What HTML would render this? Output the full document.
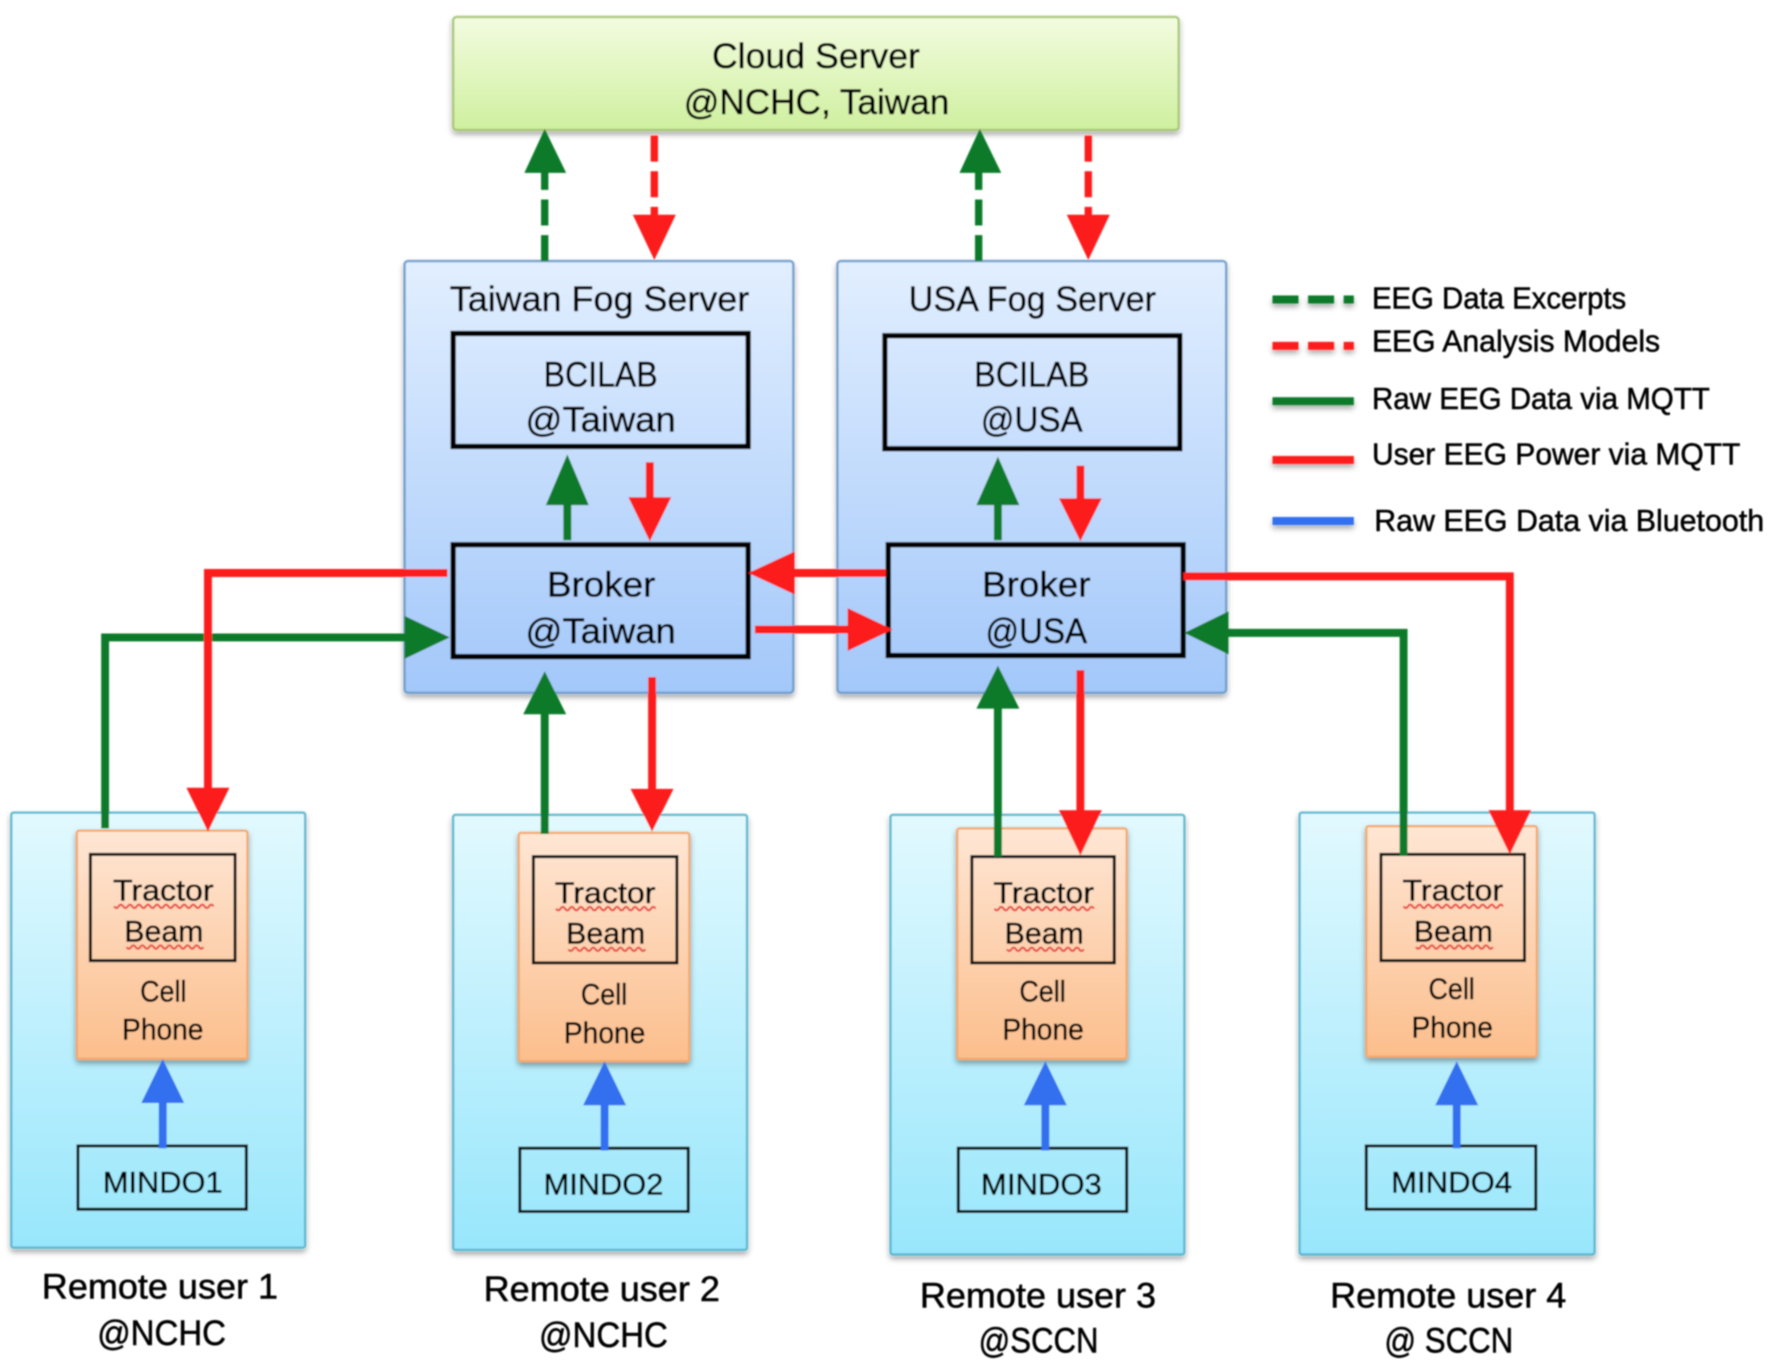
<!DOCTYPE html>
<html><head><meta charset="utf-8"><style>
html,body{margin:0;padding:0;background:#fff;width:1772px;height:1372px;overflow:hidden}
svg{display:block}
text{font-family:"Liberation Sans",sans-serif;fill:#000;stroke:#000;stroke-width:0.45px}
.b{font-size:31px}.s{font-size:26px}.l{font-size:27px}
</style></head><body>
<svg xmlns="http://www.w3.org/2000/svg" width="1772" height="1372" viewBox="0 0 1568 1214">
<defs>
<linearGradient id="gc" x1="0" y1="0" x2="0" y2="1"><stop offset="0" stop-color="#f3fce0"/><stop offset="1" stop-color="#cff09f"/></linearGradient>
<linearGradient id="gf" x1="0" y1="0" x2="0" y2="1"><stop offset="0" stop-color="#e2efff"/><stop offset="1" stop-color="#a3c8fa"/></linearGradient>
<linearGradient id="gr" x1="0" y1="0" x2="0" y2="1"><stop offset="0" stop-color="#e2f9fe"/><stop offset="1" stop-color="#98e6fc"/></linearGradient>
<linearGradient id="go" x1="0" y1="0" x2="0" y2="1"><stop offset="0" stop-color="#fee6d4"/><stop offset="1" stop-color="#fcbe8c"/></linearGradient>
<filter id="sh" x="-10%" y="-10%" width="120%" height="120%"><feDropShadow dx="0" dy="3" stdDeviation="2.5" flood-color="#000" flood-opacity="0.35"/></filter>
<filter id="bl"><feGaussianBlur stdDeviation="0.6"/></filter>
</defs>
<g filter="url(#bl)">
<!-- boxes -->
<rect x="401" y="15" width="642" height="100" rx="3" fill="url(#gc)" stroke="#a8c67a" stroke-width="2" filter="url(#sh)"/>
<rect x="358" y="231" width="344" height="382" rx="3" fill="url(#gf)" stroke="#6f9dca" stroke-width="2" filter="url(#sh)"/>
<rect x="741" y="231" width="344" height="382" rx="3" fill="url(#gf)" stroke="#6f9dca" stroke-width="2" filter="url(#sh)"/>
<g fill="none" stroke="#000" stroke-width="4.6">
<rect x="401" y="295" width="261" height="100"/>
<rect x="783" y="297" width="261" height="100"/>
<rect x="401" y="482" width="261" height="99"/>
<rect x="786" y="482" width="261" height="98"/>
</g>
<g fill="url(#gr)" stroke="#5db7cf" stroke-width="2" filter="url(#sh)">
<rect x="10" y="719" width="260" height="385" rx="2"/>
<rect x="401" y="721" width="260" height="385" rx="2"/>
<rect x="788" y="721" width="260" height="389" rx="2"/>
<rect x="1150" y="719" width="261" height="391" rx="2"/>
</g>
<g fill="url(#go)" stroke="#f3a76a" stroke-width="2" filter="url(#sh)">
<rect x="68" y="735" width="151" height="202" rx="2"/>
<rect x="459" y="737" width="151" height="202" rx="2"/>
<rect x="847" y="733" width="150" height="204" rx="2"/>
<rect x="1209" y="731" width="151" height="204" rx="2"/>
</g>
<g fill="none" stroke="#111" stroke-width="2.7">
<rect x="80" y="756" width="128" height="94"/>
<rect x="472" y="758" width="127" height="94"/>
<rect x="860" y="758" width="126" height="94"/>
<rect x="1222" y="756" width="127" height="94"/>
<rect x="69" y="1014" width="149" height="56"/>
<rect x="460" y="1016" width="149" height="56"/>
<rect x="848" y="1016" width="149" height="56"/>
<rect x="1209" y="1014" width="150" height="56"/>
</g>
<!-- connectors -->
<g fill="none" stroke-width="7">
<g stroke="#0a7a2a" stroke-dasharray="23 8.5" stroke-width="6.5">
<path d="M482 231V150"/><path d="M866 231V150"/>
</g>
<g stroke="#fd1d1d" stroke-dasharray="23 8.5" stroke-width="6.5">
<path d="M579 120V195"/><path d="M963 120V195"/>
</g>
<g stroke="#0a7a2a">
<path d="M502 478V445"/><path d="M883 478V445"/>
<path d="M93 733V564H360"/>
<path d="M482 738V630"/><path d="M883 758V625"/>
<path d="M1242 757V560H1085"/>
</g>
<g stroke="#fd1d1d">
<path d="M575 409V442"/><path d="M956 412V442"/>
<path d="M784 507H700"/><path d="M668 557H752"/>
<path d="M396 507H184V700"/>
<path d="M577 599V700"/><path d="M956 593V720"/>
<path d="M1047 510H1336V720"/>
</g>
<g stroke="#3070f0">
<path d="M144 1016V974"/><path d="M535 1018V976"/><path d="M925 1018V976"/><path d="M1289 1016V976"/>
</g>
</g>
<!-- arrowheads -->
<g fill="#0a7a2a">
<path d="M482 114L464 153H501Z"/><path d="M867 114L849 153H886Z"/>
<path d="M502 402L483 447H521Z"/><path d="M883 404L864 447H902Z"/>
<path d="M398 564L358 545V583Z"/>
<path d="M482 594L463 632H501Z"/><path d="M883 589L864 627H902Z"/>
<path d="M1048 560L1087 541V579Z"/>
</g>
<g fill="#fd1d1d">
<path d="M579 230L560 190H598Z"/><path d="M963 230L944 190H982Z"/>
<path d="M575 479L556 440H594Z"/><path d="M956 479L937 441H975Z"/>
<path d="M662 507L703 488V526Z"/><path d="M790 557L750 538V576Z"/>
<path d="M184 736L165 697H203Z"/>
<path d="M577 736L558 698H596Z"/>
<path d="M956 757L937 717H975Z"/>
<path d="M1336 756L1317 717H1355Z"/>
</g>
<g fill="#3070f0">
<path d="M144 937L125 976H163Z"/><path d="M535 939L516 978H554Z"/>
<path d="M925 939L906 978H944Z"/><path d="M1289 939L1270 978H1308Z"/>
</g>
<!-- squiggles -->
<g fill="none" stroke="#e8433f" stroke-width="1.8">
<path d="M101 802q2 3 4 0t4 0t4 0t4 0t4 0t4 0t4 0t4 0t4 0t4 0t4 0t4 0t4 0t4 0t4 0t4 0t4 0t4 0t4 0t4 0t4 0t4 0"/>
<path d="M112 838q2 3 4 0t4 0t4 0t4 0t4 0t4 0t4 0t4 0t4 0t4 0t4 0t4 0t4 0t4 0t4 0t4 0t4 0"/>
<path d="M492 804q2 3 4 0t4 0t4 0t4 0t4 0t4 0t4 0t4 0t4 0t4 0t4 0t4 0t4 0t4 0t4 0t4 0t4 0t4 0t4 0t4 0t4 0t4 0"/>
<path d="M503 840q2 3 4 0t4 0t4 0t4 0t4 0t4 0t4 0t4 0t4 0t4 0t4 0t4 0t4 0t4 0t4 0t4 0t4 0"/>
<path d="M880 804q2 3 4 0t4 0t4 0t4 0t4 0t4 0t4 0t4 0t4 0t4 0t4 0t4 0t4 0t4 0t4 0t4 0t4 0t4 0t4 0t4 0t4 0t4 0"/>
<path d="M891 840q2 3 4 0t4 0t4 0t4 0t4 0t4 0t4 0t4 0t4 0t4 0t4 0t4 0t4 0t4 0t4 0t4 0t4 0"/>
<path d="M1242 802q2 3 4 0t4 0t4 0t4 0t4 0t4 0t4 0t4 0t4 0t4 0t4 0t4 0t4 0t4 0t4 0t4 0t4 0t4 0t4 0t4 0t4 0t4 0"/>
<path d="M1253 838q2 3 4 0t4 0t4 0t4 0t4 0t4 0t4 0t4 0t4 0t4 0t4 0t4 0t4 0t4 0t4 0t4 0t4 0"/>
</g>
<!-- legend -->
<g fill="none" stroke-width="7" filter="url(#sh)">
<path d="M1126 265H1198" stroke="#0a7a2a" stroke-dasharray="23 8.5"/>
<path d="M1126 306H1198" stroke="#fd1d1d" stroke-dasharray="23 8.5"/>
<path d="M1126 355H1198" stroke="#0a7a2a"/>
<path d="M1126 407H1198" stroke="#fd1d1d"/>
<path d="M1126 461H1198" stroke="#3070f0"/>
</g>
<!-- text -->
<g>
<text class="b" x="630" y="60" textLength="184" lengthAdjust="spacingAndGlyphs">Cloud Server</text>
<text class="b" x="605" y="101" textLength="235" lengthAdjust="spacingAndGlyphs">@NCHC, Taiwan</text>
<text class="b" x="398" y="275" textLength="265" lengthAdjust="spacingAndGlyphs">Taiwan Fog Server</text>
<text class="b" x="804" y="275" textLength="219" lengthAdjust="spacingAndGlyphs">USA Fog Server</text>
<text class="b" x="481" y="342" textLength="101" lengthAdjust="spacingAndGlyphs">BCILAB</text>
<text class="b" x="465" y="382" textLength="133" lengthAdjust="spacingAndGlyphs">@Taiwan</text>
<text class="b" x="862" y="342" textLength="102" lengthAdjust="spacingAndGlyphs">BCILAB</text>
<text class="b" x="868" y="382" textLength="90" lengthAdjust="spacingAndGlyphs">@USA</text>
<text class="b" x="484" y="528" textLength="96" lengthAdjust="spacingAndGlyphs">Broker</text>
<text class="b" x="465" y="569" textLength="133" lengthAdjust="spacingAndGlyphs">@Taiwan</text>
<text class="b" x="869" y="528" textLength="96" lengthAdjust="spacingAndGlyphs">Broker</text>
<text class="b" x="872" y="569" textLength="90" lengthAdjust="spacingAndGlyphs">@USA</text>

<text class="s" x="100" y="797" textLength="89" lengthAdjust="spacingAndGlyphs">Tractor</text>
<text class="s" x="110" y="833" textLength="70" lengthAdjust="spacingAndGlyphs">Beam</text>
<text class="s" x="124" y="886" textLength="41" lengthAdjust="spacingAndGlyphs">Cell</text>
<text class="s" x="108" y="920" textLength="72" lengthAdjust="spacingAndGlyphs">Phone</text>
<text class="s" x="91" y="1055" textLength="106" lengthAdjust="spacingAndGlyphs">MINDO1</text>

<text class="s" x="491" y="799" textLength="89" lengthAdjust="spacingAndGlyphs">Tractor</text>
<text class="s" x="501" y="835" textLength="70" lengthAdjust="spacingAndGlyphs">Beam</text>
<text class="s" x="514" y="889" textLength="41" lengthAdjust="spacingAndGlyphs">Cell</text>
<text class="s" x="499" y="923" textLength="72" lengthAdjust="spacingAndGlyphs">Phone</text>
<text class="s" x="481" y="1057" textLength="106" lengthAdjust="spacingAndGlyphs">MINDO2</text>

<text class="s" x="879" y="799" textLength="89" lengthAdjust="spacingAndGlyphs">Tractor</text>
<text class="s" x="889" y="835" textLength="70" lengthAdjust="spacingAndGlyphs">Beam</text>
<text class="s" x="902" y="886" textLength="41" lengthAdjust="spacingAndGlyphs">Cell</text>
<text class="s" x="887" y="920" textLength="72" lengthAdjust="spacingAndGlyphs">Phone</text>
<text class="s" x="868" y="1057" textLength="107" lengthAdjust="spacingAndGlyphs">MINDO3</text>

<text class="s" x="1241" y="797" textLength="89" lengthAdjust="spacingAndGlyphs">Tractor</text>
<text class="s" x="1251" y="833" textLength="70" lengthAdjust="spacingAndGlyphs">Beam</text>
<text class="s" x="1264" y="884" textLength="41" lengthAdjust="spacingAndGlyphs">Cell</text>
<text class="s" x="1249" y="918" textLength="72" lengthAdjust="spacingAndGlyphs">Phone</text>
<text class="s" x="1231" y="1055" textLength="107" lengthAdjust="spacingAndGlyphs">MINDO4</text>

<text class="b" x="37" y="1149" textLength="209" lengthAdjust="spacingAndGlyphs">Remote user 1</text>
<text class="b" x="86" y="1190" textLength="114" lengthAdjust="spacingAndGlyphs">@NCHC</text>
<text class="b" x="428" y="1151" textLength="209" lengthAdjust="spacingAndGlyphs">Remote user 2</text>
<text class="b" x="477" y="1192" textLength="114" lengthAdjust="spacingAndGlyphs">@NCHC</text>
<text class="b" x="814" y="1157" textLength="209" lengthAdjust="spacingAndGlyphs">Remote user 3</text>
<text class="b" x="866" y="1197" textLength="106" lengthAdjust="spacingAndGlyphs">@SCCN</text>
<text class="b" x="1177" y="1157" textLength="209" lengthAdjust="spacingAndGlyphs">Remote user 4</text>
<text class="b" x="1225" y="1197" textLength="114" lengthAdjust="spacingAndGlyphs">@ SCCN</text>

<text class="l" x="1214" y="273" textLength="225" lengthAdjust="spacingAndGlyphs">EEG Data Excerpts</text>
<text class="l" x="1214" y="311" textLength="255" lengthAdjust="spacingAndGlyphs">EEG Analysis Models</text>
<text class="l" x="1214" y="362" textLength="299" lengthAdjust="spacingAndGlyphs">Raw EEG Data via MQTT</text>
<text class="l" x="1214" y="411" textLength="326" lengthAdjust="spacingAndGlyphs">User EEG Power via MQTT</text>
<text class="l" x="1216" y="470" textLength="345" lengthAdjust="spacingAndGlyphs">Raw EEG Data via Bluetooth</text>
</g>
</g>
</svg>
</body></html>
